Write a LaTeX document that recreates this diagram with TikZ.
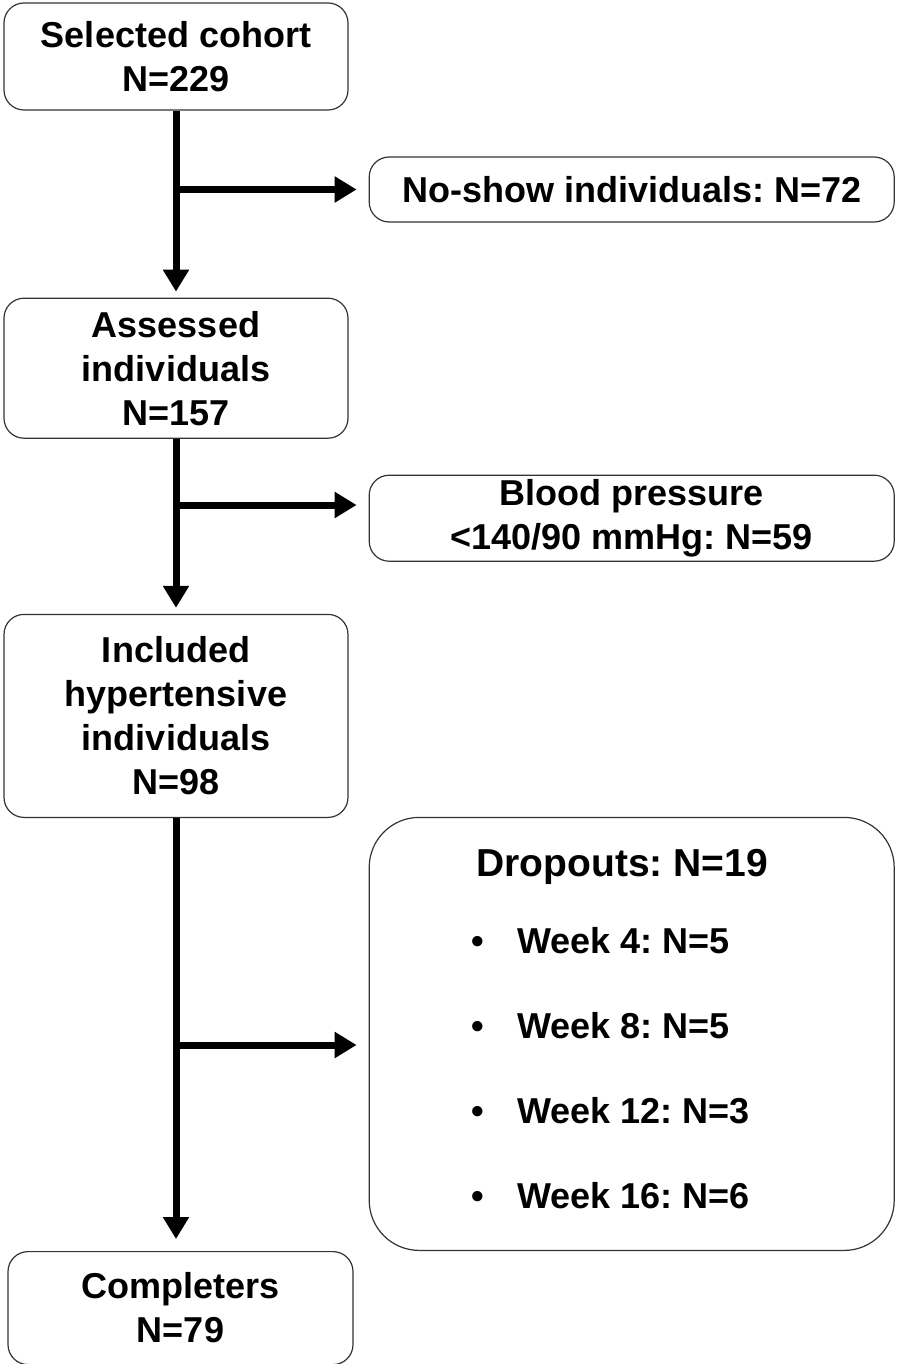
\documentclass[tikz,border=0pt]{standalone}
\usepackage{fontspec}
\setmainfont{Liberation Sans}
\usetikzlibrary{positioning,arrows.meta}
\frenchspacing

\begin{document}
\begin{tikzpicture}[
  box/.style = {draw=black!80, line width=0.6pt, rounded corners=10pt, align=center, minimum width=172pt, inner sep=0pt, font=\fontsize{18}{22}\selectfont\bfseries},
  side/.style = {box, minimum width=262.5pt},
  flow/.style = {line width=3.5pt, -{Triangle[length=11pt,width=12.5pt]}},
  item/.style = {anchor=base west, inner sep=0pt, font=\fontsize{18}{22}\selectfont\bfseries}]
	\useasboundingbox (0,0) rectangle (448pt,-682pt);
	\node[box, minimum height=53.5pt] (sel) at (88pt,-28.25pt) {Selected cohort\\N=229};
	\node[side, minimum height=32.5pt, right=10pt of sel, yshift=-66.5pt] (noshow) {No-show individuals: N=72};
	\node[box, minimum height=70pt, below=93.5pt of sel] (ass) {Assessed\\individuals\\N=157};
	\node[side, minimum height=43pt, right=10pt of ass, yshift=-75pt] (bp) {Blood pressure\\<140/90 mmHg: N=59};
	\node[box, minimum height=101.5pt, below=87.5pt of ass] (inc) {Included\\hypertensive\\individuals\\N=98};
	\node[side, minimum height=216.5pt, rounded corners=25pt, right=10pt of inc, yshift=-159pt] (drop) {};
	\node[box, minimum width=172.5pt, minimum height=56.5pt, below=216.5pt of inc, xshift=2.25pt] (comp) {Completers\\N=79};
	% dropouts list
	\node[item, font=\fontsize{19.5}{22}\selectfont\bfseries] (dtitle) at (238pt,-438pt) {Dropouts: N=19};
	\foreach \wk/\n/\y [count=\i] in {4/5/476.5pt, 8/5/519pt, 12/3/561.5pt, 16/6/604pt} {
		\node[item] (dot\i) at (235.5pt,-\y) {•};
		\node[item] (week\i) at (258.5pt,-\y) {Week \wk: N=\n};
	}
	\coordinate (b1) at (sel.south |- noshow.west);
	\coordinate (b2) at (87.5pt,-252.5pt);
	\coordinate (b3) at (87.5pt,-522.5pt);
	\draw[flow, shorten >=3pt] (sel) -- (ass);
	\draw[flow, shorten >=3pt] (ass) -- (inc);
	\draw[flow, shorten >=6pt] (inc.south) -- (inc.south |- comp.north);
	\draw[flow, shorten >=6pt] (b1) -- (noshow.west);
	\draw[flow, shorten >=6pt] (b2) -- (b2 -| bp.west);
	\draw[flow, shorten >=6pt] (b3) -- (b3 -| drop.west);
\end{tikzpicture}
\end{document}
